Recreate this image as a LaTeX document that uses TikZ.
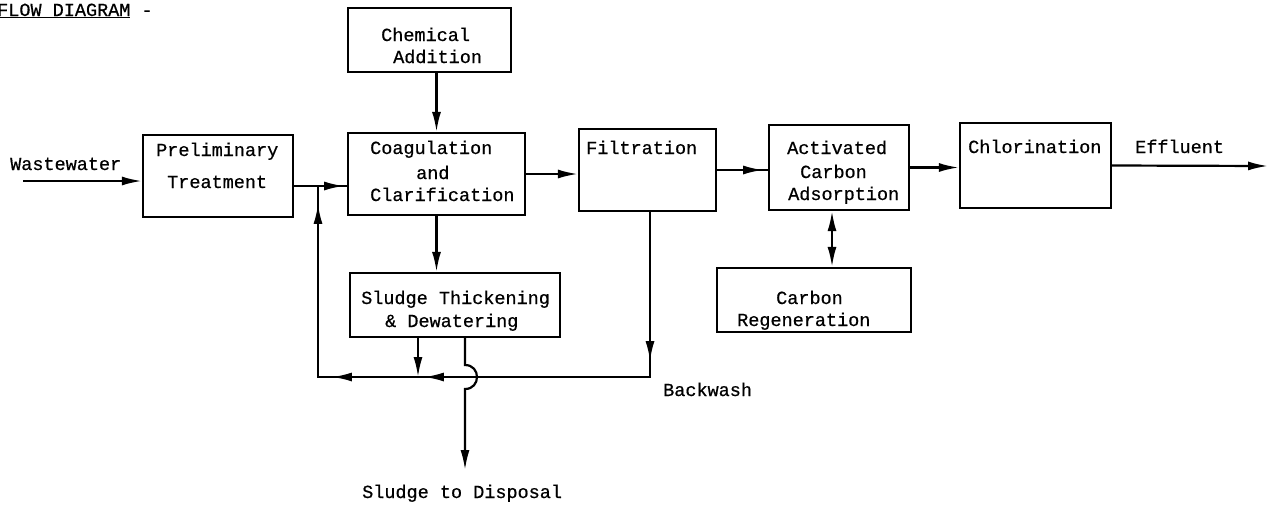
\documentclass[tikz,border=0pt]{standalone}
\usepackage{fontspec}
\setmonofont{Liberation Mono}[FakeBold=0.6]
\usetikzlibrary{arrows.meta,decorations.markings,fit}

\tikzset{
  head/.tip={Latex[length=20pt,width=9pt]},
  flow/.style={line width=2.2pt},
  blk/.style={draw, line width=2.2pt, inner sep=0pt},
  txt/.style={font=\ttfamily\fontsize{18.5}{23}\selectfont, inner sep=0pt, anchor=base west},
  tip/.style={-head},
  tiptwo/.style={head-head},
  arrowat/.style={postaction={decorate, decoration={markings,
      mark=at position #1 with {\arrow{head}}}}},
}

\begin{document}
\begin{tikzpicture}[x=1pt, y=-1pt]
\useasboundingbox (0,0) rectangle (1268,507);

% process blocks
\node[blk, fit={(348,8) (511,72)}]    (chem)   {};
\node[blk, fit={(143,135) (293,217)}] (prelim) {};
\node[blk, fit={(348,133) (525,215)}] (coag)   {};
\node[blk, fit={(579,129) (716,211)}] (filt)   {};
\node[blk, fit={(769,125) (909,210)}] (act)    {};
\node[blk, fit={(960,123) (1111,208)}] (chl)   {};
\node[blk, fit={(717,268) (911,332)}] (regen)  {};
\node[blk, fit={(350,273) (560,337)}] (sludge) {};

% block texts and labels
\node[txt] (ttl) at (-3,16) {\underline{FLOW DIAGRAM} -};
\node[txt] (tww) at (10,170) {Wastewater};
\node[txt] (tp1) at (156,156) {Preliminary};
\node[txt] (tp2) at (167,188) {Treatment};
\node[txt] (tc1) at (381,41) {Chemical};
\node[txt] (tc2) at (393,63) {Addition};
\node[txt] (tg1) at (370,154) {Coagulation};
\node[txt] (tg2) at (416,179) {and};
\node[txt] (tg3) at (370,201) {Clarification};
\node[txt] (tf)  at (586,154) {Filtration};
\node[txt] (ta1) at (787,154) {Activated};
\node[txt] (ta2) at (800,178) {Carbon};
\node[txt] (ta3) at (788,200) {Adsorption};
\node[txt] (tch) at (968,153) {Chlorination};
\node[txt] (tef) at (1135,153) {Effluent};
\node[txt] (tr1) at (776,304) {Carbon};
\node[txt] (tr2) at (737,326) {Regeneration};
\node[txt] (ts1) at (361,304) {Sludge Thickening};
\node[txt] (ts2) at (385,327) {\& Dewatering};
\node[txt] (tbw) at (663,396) {Backwash};
\node[txt] (tsd) at (362,498) {Sludge to Disposal};

% free ends and bends of the lines
\coordinate (ww)  at (23,181);
\coordinate (j)   at (318,186);
\coordinate (rc)  at (318,377);
\coordinate (fc)  at (650,377);
\coordinate (s1)  at (418,377);
\coordinate (dz)  at (465,470);
\coordinate (ax)  at (832,240);
\coordinate (eff) at (1268,166);

% main line
\draw[flow, tip] (ww) -- (ww -| prelim.west);
\draw[flow, arrowat=50pt] (prelim.east |- j) -- (j -| coag.west);
\draw[flow, tip] (chem.south -| coag.north) -- (coag.north);
\draw[flow, tip] (coag.east) -- (coag.east -| filt.west);
\draw[flow, arrowat=46pt] (filt.east) -- (filt.east -| act.west);
\draw[flow, tip] (act.east) -- (act.east -| chl.west);
\draw[flow, tip] (chl.east) -- (eff);
\draw[flow, tiptwo] (ax |- act.south) -- (ax |- regen.north);

% sludge handling
\draw[flow, tip] (coag.south) -- (coag.south |- sludge.north);
\draw[flow, tip] (s1 |- sludge.south) -- (s1);
\draw[flow, tip] (dz |- sludge.south) -- (465,365)
  .. controls (481,365) and (481,389) .. (465,389) -- (dz);

% backwash and return flow
\draw[flow, postaction={decorate, decoration={markings,
    mark=at position 149pt with {\arrow{head}},
    mark=at position 391pt with {\arrow{head}},
    mark=at position 483pt with {\arrow{head}},
    mark=at position 670pt with {\arrow{head}}}}]
  (fc |- filt.south) -- (fc) -- (rc) -- (j);
\end{tikzpicture}
\end{document}
